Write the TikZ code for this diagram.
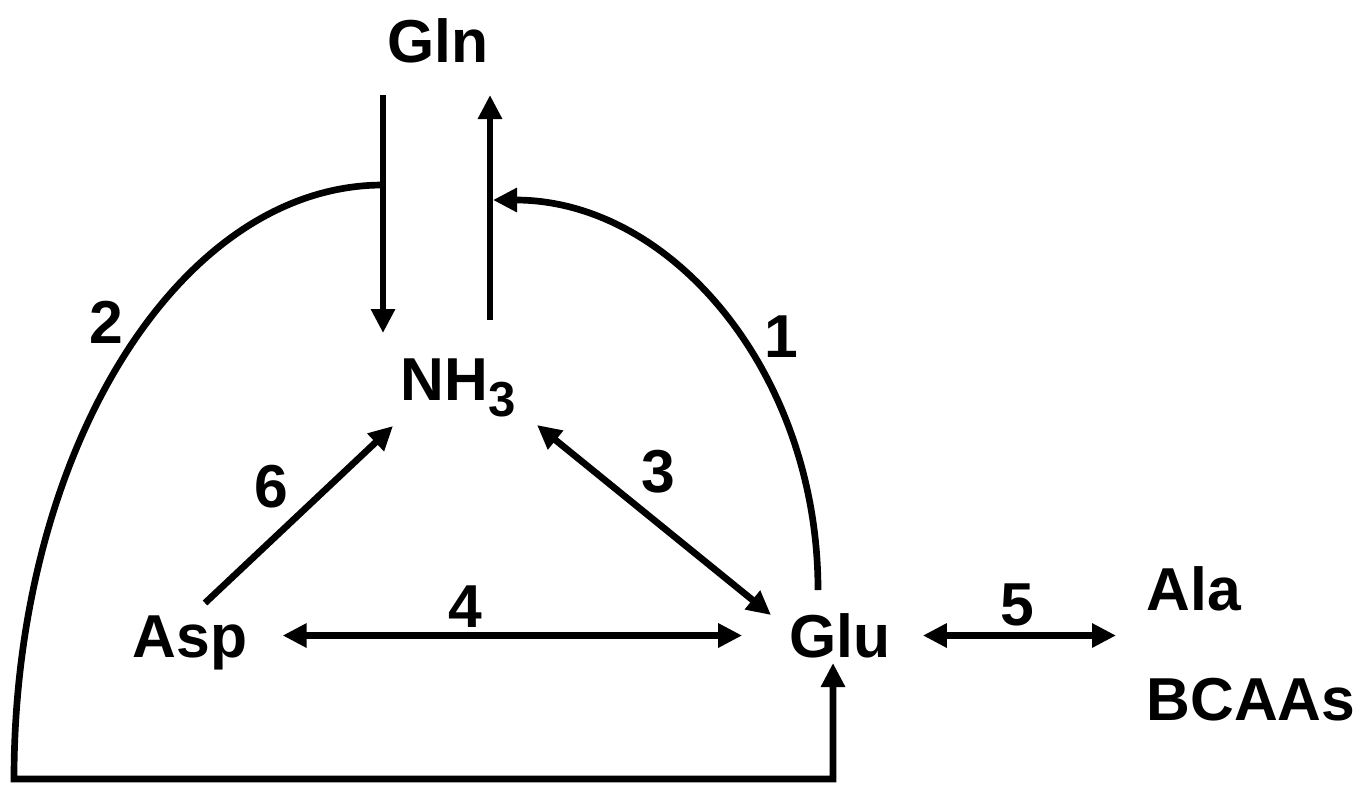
\documentclass[tikz,border=0pt]{standalone}
\usepackage{fontspec}
\setmainfont{Liberation Sans}
\usetikzlibrary{arrows.meta}

\begin{document}
\begin{tikzpicture}[
    x=0.02cm, y=-0.02cm,
    >={Triangle[length=0.48cm, width=0.46cm]},
    metab/.style={inner sep=0pt, text height=0.86cm, text depth=0pt, font=\fontsize{34.5}{40}\selectfont\bfseries},
    stepnum/.style={metab},
    link/.style={line width=3.8pt},
    arrow/.style={->, line width=3.8pt},
    dblarrow/.style={<->, line width=3.8pt}
]
\useasboundingbox (0,0) rectangle (1371,785);

% Metabolites
\node[metab] (gln) at (438,40.5) {Gln};
\node[metab] (nh3) at (458,379) {NH\raisebox{-9pt}{\fontsize{28}{30}\selectfont 3}};
\node[metab] (asp) at (190,635.5) {Asp};
\node[metab] (glu) at (840,635.5) {Glu};
\node[metab] (ala) at (1194,588.5) {Ala};
\node[metab] (bcaa) at (1251,698.5) {BCAAs};

% Reaction numbers
\node[stepnum] (lbl1) at (781,335.5) {1};
\node[stepnum] (lbl2) at (106,321.5) {2};
\node[stepnum] (lbl3) at (658,470.5) {3};
\node[stepnum] (lbl4) at (465,605.5) {4};
\node[stepnum] (lbl5) at (1017,603.5) {5};
\node[stepnum] (lbl6) at (271,485.5) {6};

% Connector ends
\coordinate (gln-in) at (383,95);
\coordinate (gln-out) at (490,95);
\coordinate (nh3-in) at (383,333);
\coordinate (nh3-out) at (490,320);
\coordinate (branch) at (383,185);
\coordinate (asp-ne) at (205,603);
\coordinate (nh3-sw) at (393,426);
\coordinate (nh3-se) at (537,425);
\coordinate (glu-nw) at (771,615);
\coordinate (glu-top) at (818,590);
\coordinate (glu-bot) at (833,663);
\coordinate (ala-in) at (1116,635.5);

% Connectors
\draw[arrow] (gln-in) -- (nh3-in);
\draw[arrow] (nh3-out) -- (gln-out);
\draw[arrow] (glu-top) arc[start angle=0, end angle=-90, x radius=325, y radius=390];
\draw[arrow] (branch) arc[start angle=-90, end angle=-180, x radius=369, y radius=594]
    -- (833,779) -- (glu-bot);
\draw[arrow] (asp-ne) -- (nh3-sw);
\draw[dblarrow] (nh3-se) -- (glu-nw);
\draw[dblarrow, shorten <=0.7cm, shorten >=0.94cm] (asp) -- (glu);
\draw[dblarrow, shorten <=0.64cm] (glu) -- (ala-in);

\end{tikzpicture}
\end{document}
